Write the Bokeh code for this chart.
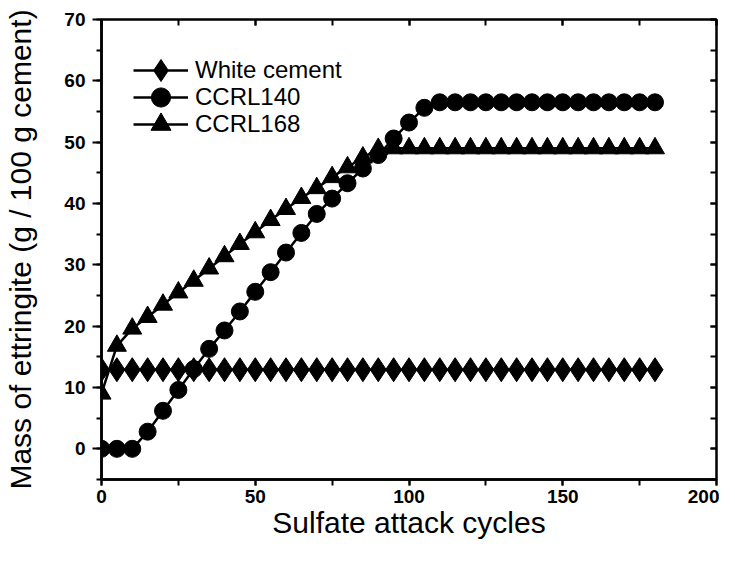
from bokeh.plotting import figure
from bokeh.models import (Range1d, LinearAxis, SingleIntervalTicker, Legend, LegendItem,
                          ColumnDataSource, CustomJSTickFormatter)
from bokeh.embed import file_html
from bokeh.resources import INLINE

# ---- data ----
cycles = [i * 5 for i in range(37)]  # 0..180
white_cement = [12.9] * 37
ccrl140 = [0.0, 0.0, 0.0, 2.8, 6.2, 9.6, 13.0, 16.3, 19.3, 22.4, 25.6, 28.8, 32.0, 35.2,
           38.3, 40.8, 43.3, 45.7, 47.9, 50.6, 53.2, 55.6] + [56.5] * 15
ccrl168 = [9.0, 16.8, 19.6, 21.5, 23.5, 25.5, 27.4, 29.4, 31.4, 33.4, 35.3, 37.3, 39.1,
           40.9, 42.5, 44.3, 45.9, 47.5, 48.9] + [49.0] * 18
series_names = ["White cement", "CCRL140", "CCRL168"]

FONT = "Liberation Sans"

p = figure(width=719, height=547, output_backend="svg", toolbar_location=None,
           x_range=Range1d(0, 200), y_range=Range1d(-5, 70),
           min_border_left=101, min_border_right=3, min_border_top=19, min_border_bottom=68,
           background_fill_color="white", border_fill_color="white")
p.xgrid.visible = False
p.ygrid.visible = False
p.outline_line_color = "black"
p.outline_line_width = 2.5
p.outline_line_alpha = 1.0

src = ColumnDataSource(dict(x=cycles, w=white_cement, a=ccrl140, b=ccrl168))

lw = 2.5
l1 = p.line("x", "w", source=src, line_color="black", line_width=lw)
m1 = p.scatter("x", "w", source=src, marker="diamond", size=24, fill_color="black", line_color="black")
l2 = p.line("x", "a", source=src, line_color="black", line_width=lw)
m2 = p.scatter("x", "a", source=src, marker="circle", size=17, fill_color="black", line_color="black")
l3 = p.line("x", "b", source=src, line_color="black", line_width=lw)
m3 = p.scatter("x", "b", source=src, marker="triangle", size=19, fill_color="black", line_color="black")

# ---- axes ----
xa = p.xaxis[0]
xa.ticker = SingleIntervalTicker(interval=50, num_minor_ticks=2)
ya = p.yaxis[0]
ya.ticker = SingleIntervalTicker(interval=10, num_minor_ticks=2)
for ax in (xa, ya):
    ax.axis_line_width = 2.5
    ax.major_tick_line_width = 2
    ax.minor_tick_line_width = 2
    ax.major_tick_in = 0
    ax.minor_tick_in = 0
    ax.major_label_text_font = FONT
    ax.major_label_text_font_style = "bold"
    ax.major_label_text_font_size = "19px"
    ax.major_label_text_color = "black"
    ax.axis_label_text_font = FONT
    ax.axis_label_text_font_style = "normal"
    ax.axis_label_text_font_size = "30px"
    ax.axis_label_text_color = "black"
xa.major_tick_out = 6
xa.minor_tick_out = 6
xa.major_label_standoff = 4
xa.axis_label = "Sulfate attack cycles"
xa.axis_label_standoff = 0
ya.major_tick_out = 9
ya.minor_tick_out = 5
ya.major_label_standoff = 7
ya.axis_label = "Mass of ettringite (g / 100 g cement)"
ya.axis_label_standoff = 24

blank = CustomJSTickFormatter(code="return ''")
top = LinearAxis(ticker=SingleIntervalTicker(interval=50, num_minor_ticks=2), formatter=blank)
right = LinearAxis(ticker=SingleIntervalTicker(interval=10, num_minor_ticks=2), formatter=blank)
for ax in (top, right):
    ax.axis_line_color = None
    ax.major_tick_in = 6
    ax.major_tick_out = 0
    ax.minor_tick_in = 6
    ax.minor_tick_out = 0
    ax.major_tick_line_width = 2
    ax.minor_tick_line_width = 2
    ax.major_label_standoff = 0
p.add_layout(top, "above")
p.add_layout(right, "right")

# one legend per entry so that each can carry full-size markers at the reference row pitch
frame_h = 547 - 19 - 68
row_centres = [51, 78, 105]      # px below frame top
glyph_heights = [58, 48, 50]
pairs = [(l1, m1), (l2, m2), (l3, m3)]
for name, (lr, mr), yc, gh in zip(series_names, pairs, row_centres, glyph_heights):
    lg = Legend(items=[LegendItem(label=name, renderers=[lr, mr])],
                location=(32, int(frame_h - yc - gh / 2)),
                margin=0, padding=0, spacing=0,
                glyph_width=55, glyph_height=gh, label_height=20, label_standoff=7,
                label_text_font=FONT, label_text_font_size="24px", label_text_color="black",
                border_line_color=None, background_fill_alpha=0.0)
    p.add_layout(lg, "center")

open("out.html", "w").write(file_html(p, INLINE))
